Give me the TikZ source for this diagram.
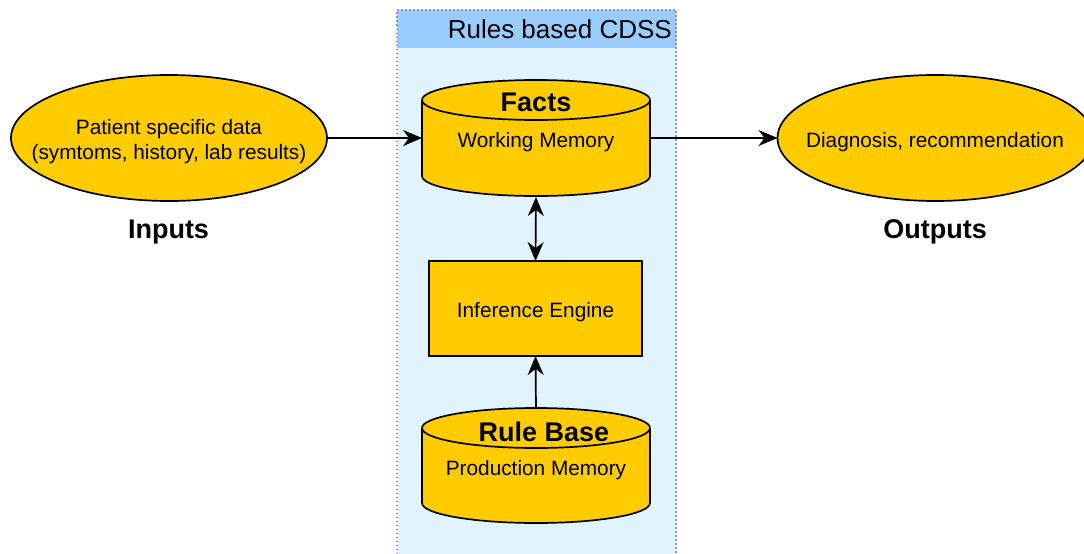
\documentclass[tikz,border=0pt]{standalone}
\usepackage{fontspec}
\setmainfont{Liberation Sans}
\usetikzlibrary{shapes.geometric,arrows.meta}
\definecolor{gold}{HTML}{FFCC00}
\definecolor{bodyblue}{HTML}{E1F3FD}
\definecolor{headblue}{HTML}{99CCFF}
\definecolor{dotcol}{HTML}{8C91C4}
\tikzset{
  boxline/.style={draw=black, line width=1.7pt, fill=gold},
  tip/.tip={Stealth[length=19pt,width=16pt,inset=6pt]},
  conn/.style={line width=1.7pt, -tip},
  normtxt/.style={font=\fontsize{20.8}{25}\selectfont, inner sep=0pt},
  boldtxt/.style={font=\fontsize{27}{32}\selectfont\bfseries, inner sep=0pt},
  titletxt/.style={font=\fontsize{26}{30}\selectfont, inner sep=0pt},
  plainnode/.style={inner sep=0pt, outer sep=0pt},
  dotborder/.style={draw=dotcol, line width=1.2pt, dash pattern=on 1.5pt off 2.5pt},
}
\begin{document}
\begin{tikzpicture}[x=1pt,y=-1pt]
\useasboundingbox (0,0) rectangle (1084,554);
% container
\node (cdss) [plainnode, anchor=north west, fill=bodyblue, minimum width=279pt, minimum height=560pt] at (397,10) {};
\node (cdsshead) [plainnode, anchor=north west, fill=headblue, minimum width=279pt,
  minimum height=38pt] at (397,10) {};
\draw[dotborder] (cdss.south west) -- (cdss.north west) -- (cdss.north east) -- (cdss.south east);
\node (cdsstitle) [titletxt, anchor=base east] at (672,38) {Rules based CDSS};

% facts cylinder
\path[boxline] (422,100) -- (422,176)
  arc[start angle=180,end angle=360,x radius=114pt,y radius=20pt] -- (650,100)
  arc[start angle=0,end angle=180,x radius=114pt,y radius=20pt] -- cycle;
\draw[line width=1.7pt] (422,100) arc[start angle=180,end angle=360,x radius=114pt,y radius=20pt];
\node (facts) [plainnode, minimum width=228pt, minimum height=116pt] at (536,138) {};
\node (factslbl) [boldtxt, anchor=base] at (536,111) {Facts};
\node (factssub) [normtxt, anchor=base] at (536,147.5) {Working Memory};

% rule base cylinder
\path[boxline] (422,428) -- (422,503)
  arc[start angle=180,end angle=360,x radius=114pt,y radius=20pt] -- (650,428)
  arc[start angle=0,end angle=180,x radius=114pt,y radius=20pt] -- cycle;
\draw[line width=1.7pt] (422,428) arc[start angle=180,end angle=360,x radius=114pt,y radius=20pt];
\node (rule) [plainnode, minimum width=228pt, minimum height=115pt] at (536,465.5) {};
\node (rulelbl) [boldtxt, anchor=base] at (544,441) {Rule Base};
\node (rulesub) [normtxt, anchor=base] at (536,475) {Production Memory};

% inference engine
\node (engine) [boxline, rectangle, minimum width=213pt, minimum height=95pt, plainnode] at (535.5,308.5) {};
\node (enginetxt) [normtxt, anchor=base] at (535.5,317) {Inference Engine};

% inputs / outputs
\node (patient) [ellipse, boxline, plainnode, minimum width=316pt, minimum height=126pt] at (169,138) {};
\node (patienttxt) [normtxt, align=center, anchor=center] at (169,141.5) {Patient specific data\\(symtoms, history, lab results)};
\node (inputs) [boldtxt, anchor=base] at (168.5,238) {Inputs};

\node (diag) [ellipse, boxline, plainnode, minimum width=316pt, minimum height=126pt] at (935.5,138) {};
\node (diagtxt) [normtxt, anchor=base] at (935,147.3) {Diagnosis, recommendation};
\node (outputs) [boldtxt, anchor=base] at (935,238) {Outputs};

% connectors
\draw[conn] (patient.east) -- (facts.west);
\draw[conn] (facts.east) -- (diag.west);
\draw[line width=1.7pt, tip-tip] ([yshift=-1pt]facts.south) -- (engine.north);
\draw[conn] (rule.north) -- (engine.south);
\end{tikzpicture}
\end{document}
